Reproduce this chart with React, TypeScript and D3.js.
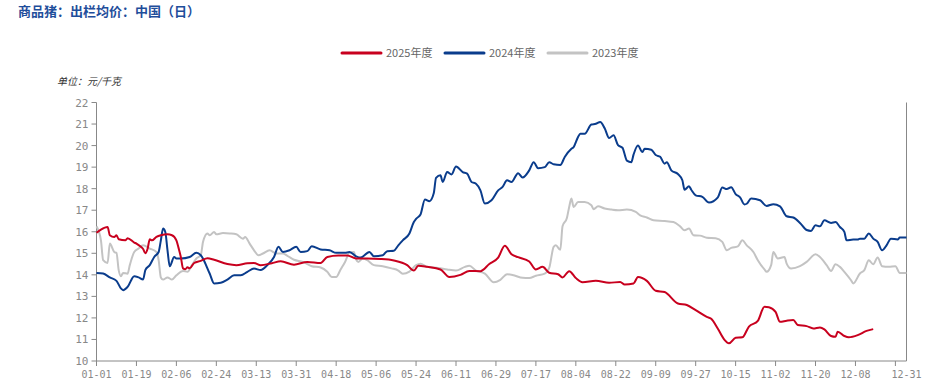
import React from "react"
import * as d3 from "d3"

// 商品猪：出栏均价，按日，横轴为闰年日序（0 = 01-01）
const seriesNames = ["2025年度", "2024年度", "2023年度"]
const seriesColors = ["#c8001e", "#0a3c8c", "#c3c3c3"]

const days2025 = [0, 2, 5, 6, 8, 9, 10, 13, 14, 17, 18, 20, 21, 22, 23, 24, 25, 27, 29, 32, 34, 36, 37, 38, 39, 40, 41, 42, 44, 47, 50, 53, 59, 63, 68, 71, 74, 79, 83, 89, 95, 101, 104, 109, 113, 117, 122, 128, 134, 140, 143, 145, 149, 155, 159, 164, 168, 173, 177, 181, 184, 187, 190, 195, 198, 201, 204, 208, 210, 213, 216, 219, 225, 231, 236, 238, 242, 244, 248, 252, 256, 262, 266, 270, 275, 277, 280, 283, 285, 288, 291, 294, 298, 301, 303, 306, 308, 311, 314, 316, 320, 323, 326, 328, 331, 333, 334, 337, 339, 343, 347, 350]
const values2025 = [15.95, 16.1, 16.22, 15.84, 15.76, 15.84, 15.65, 15.6, 15.7, 15.5, 15.45, 15.3, 15.2, 15.0, 15.2, 15.65, 15.6, 15.76, 15.84, 15.88, 15.84, 15.6, 15.24, 14.83, 14.3, 14.26, 14.35, 14.3, 14.55, 14.65, 14.77, 14.7, 14.5, 14.45, 14.54, 14.55, 14.45, 14.54, 14.63, 14.47, 14.6, 14.55, 14.83, 14.9, 14.9, 14.76, 14.76, 14.74, 14.67, 14.45, 14.2, 14.42, 14.37, 14.25, 13.9, 14.0, 14.18, 14.17, 14.5, 14.8, 15.35, 14.96, 14.82, 14.62, 14.25, 14.37, 14.1, 14.03, 13.88, 14.17, 13.85, 13.66, 13.72, 13.63, 13.67, 13.55, 13.6, 13.9, 13.72, 13.26, 13.2, 12.67, 12.6, 12.36, 12.05, 11.96, 11.5, 10.98, 10.82, 11.08, 11.1, 11.6, 11.86, 12.52, 12.5, 12.28, 11.82, 11.87, 11.9, 11.67, 11.62, 11.51, 11.56, 11.47, 11.16, 11.12, 11.36, 11.16, 11.1, 11.2, 11.4, 11.48]

const days2024 = [0, 3, 6, 9, 11, 12, 14, 17, 19, 21, 22, 24, 26, 28, 29, 30, 31, 32, 33, 35, 36, 38, 42, 45, 47, 51, 53, 56, 59, 62, 65, 68, 71, 74, 77, 80, 82, 84, 87, 90, 92, 95, 97, 101, 105, 108, 112, 114, 117, 119, 123, 125, 129, 131, 134, 136, 138, 141, 143, 144, 146, 148, 150, 152, 153, 155, 156, 158, 160, 162, 165, 167, 169, 171, 173, 175, 178, 181, 183, 185, 187, 190, 192, 195, 197, 199, 202, 204, 206, 209, 211, 214, 215, 217, 218, 220, 223, 225, 227, 229, 231, 233, 235, 237, 239, 241, 242, 244, 246, 247, 250, 252, 254, 256, 257, 259, 262, 264, 265, 267, 268, 270, 273, 276, 280, 282, 284, 286, 288, 290, 292, 293, 295, 299, 302, 305, 308, 311, 314, 317, 320, 322, 324, 326, 328, 331, 333, 335, 337, 338, 341, 343, 344, 346, 348, 350, 352, 354, 356, 358, 361, 362, 365]
const values2024 = [14.09, 14.06, 13.88, 13.72, 13.37, 13.29, 13.44, 13.94, 13.88, 13.78, 14.22, 14.45, 14.83, 15.06, 15.6, 16.15, 15.99, 15.14, 14.4, 14.83, 14.76, 14.76, 14.83, 15.02, 14.91, 14.06, 13.6, 13.63, 13.78, 13.98, 13.98, 14.14, 14.29, 14.22, 14.45, 14.83, 15.3, 15.06, 15.14, 15.3, 15.06, 15.1, 15.33, 15.18, 15.14, 15.02, 15.02, 15.06, 14.86, 14.8, 15.06, 14.86, 14.91, 15.1, 15.12, 15.37, 15.6, 15.92, 16.45, 16.6, 16.8, 17.5, 17.42, 17.8, 18.5, 18.62, 18.31, 18.77, 18.66, 19.03, 18.77, 18.7, 18.31, 18.23, 17.92, 17.31, 17.46, 17.92, 18.08, 18.39, 18.31, 18.72, 18.52, 18.85, 19.23, 18.95, 19.0, 19.23, 19.13, 19.1, 19.47, 19.85, 19.93, 20.4, 20.55, 20.55, 20.98, 21.01, 21.1, 20.8, 20.35, 20.48, 20.02, 19.9, 19.3, 19.23, 19.58, 20.0, 19.7, 19.85, 19.81, 19.56, 19.48, 19.16, 19.23, 18.85, 18.68, 18.39, 17.95, 18.11, 17.95, 17.69, 17.62, 17.36, 17.6, 18.05, 17.98, 18.07, 17.75, 17.6, 17.27, 17.3, 17.54, 17.46, 17.2, 17.28, 17.18, 16.72, 16.66, 16.41, 16.08, 16.04, 16.3, 16.25, 16.53, 16.41, 16.45, 16.22, 15.99, 15.6, 15.64, 15.64, 15.68, 15.68, 15.92, 15.68, 15.53, 15.14, 15.37, 15.68, 15.64, 15.73, 15.73]

const days2023 = [0, 2, 3, 5, 6, 8, 9, 10, 11, 12, 14, 15, 17, 19, 21, 24, 27, 28, 29, 30, 32, 34, 36, 39, 41, 43, 45, 47, 48, 50, 51, 53, 54, 57, 60, 63, 66, 67, 69, 71, 73, 75, 78, 81, 84, 86, 89, 93, 97, 101, 104, 106, 108, 110, 112, 114, 116, 117, 118, 120, 122, 125, 129, 133, 136, 138, 141, 144, 146, 149, 154, 158, 162, 166, 168, 171, 175, 179, 182, 185, 188, 192, 195, 198, 202, 204, 206, 207, 209, 210, 212, 213, 214, 215, 217, 220, 223, 224, 226, 229, 232, 235, 239, 243, 245, 248, 251, 256, 260, 263, 265, 267, 269, 272, 275, 279, 282, 284, 286, 289, 291, 293, 296, 298, 301, 302, 304, 305, 307, 310, 311, 313, 317, 320, 324, 326, 329, 331, 333, 335, 337, 340, 341, 344, 346, 348, 350, 352, 354, 357, 360, 362, 365]
const values2023 = [16.25, 15.6, 14.68, 14.55, 15.45, 15.06, 15.02, 14.22, 13.94, 14.09, 14.05, 14.45, 15.06, 15.22, 15.37, 15.22, 15.06, 14.68, 13.88, 13.78, 13.88, 13.78, 13.98, 14.18, 14.14, 14.45, 14.76, 14.91, 15.53, 15.92, 15.84, 15.99, 15.88, 15.94, 15.92, 15.88, 15.68, 15.76, 15.45, 15.14, 14.91, 14.99, 15.14, 14.99, 14.99, 14.88, 14.7, 14.6, 14.4, 14.34, 14.14, 13.9, 13.9, 14.25, 14.6, 15.02, 15.06, 14.71, 14.6, 14.76, 14.68, 14.45, 14.4, 14.3, 14.2, 14.05, 14.15, 14.45, 14.52, 14.37, 14.32, 14.25, 14.2, 14.37, 14.42, 14.2, 14.06, 13.66, 13.77, 14.03, 13.98, 13.86, 13.85, 13.96, 14.06, 14.32, 15.3, 15.37, 15.16, 16.25, 16.65, 17.15, 17.54, 17.15, 17.38, 17.38, 17.23, 17.05, 17.18, 17.08, 17.03, 17.0, 17.03, 16.92, 16.76, 16.66, 16.53, 16.5, 16.45, 16.25, 16.07, 16.15, 15.84, 15.82, 15.72, 15.7, 15.53, 15.14, 15.25, 15.32, 15.6, 15.37, 15.06, 14.68, 14.25, 14.14, 14.45, 15.06, 14.76, 14.83, 14.52, 14.29, 14.4, 14.6, 14.95, 14.83, 14.45, 14.18, 14.49, 14.37, 14.14, 13.75, 13.6, 14.06, 14.22, 14.68, 14.49, 14.8, 14.4, 14.37, 14.4, 14.09, 14.09]

const xTickLabels = ["01-01", "01-19", "02-06", "02-24", "03-13", "03-31", "04-18", "05-06", "05-24", "06-11", "06-29", "07-17", "08-04", "08-22", "09-09", "09-27", "10-15", "11-02", "11-20", "12-08"]
const lastLabel = "12-31"
const yTicks = [10, 11, 12, 13, 14, 15, 16, 17, 18, 19, 20, 21, 22]

const W = 949
const H = 391
const left = 96.5
const right = 906.5
const top = 102.5
const bottom = 361

const yearStart = new Date(2024, 0, 1)
const dayOf = (md: string) => {
    const [m, d] = md.split("-").map(Number)
    return d3.timeDay.count(yearStart, new Date(2024, m - 1, d))
}

export default function App() {
    const x = d3.scaleLinear().domain([0, 365]).range([left, right])
    const y = d3.scaleLinear().domain([10, 22]).range([bottom, top])

    const line = d3.line<[number, number]>()
        .x(d => x(d[0]))
        .y(d => y(d[1]))
        .curve(d3.curveMonotoneX)

    const series = [
        d3.zip(days2025, values2025) as [number, number][],
        d3.zip(days2024, values2024) as [number, number][],
        d3.zip(days2023, values2023) as [number, number][],
    ]

    const tickDays = d3.range(0, 366, 18)
    const labelFont = "'DejaVu Sans Mono', monospace"
    const cjk = "'Noto Sans CJK SC', sans-serif"

    const legendX = [342, 445, 548]

    return (
        <svg width={W} height={H} style={{ position: "absolute", left: 0, top: 0, background: "#fff" }}>
            <text x={18} y={16} fontFamily={cjk} fontSize={13} fontWeight="bold" fill="#1f4e9b">
                商品猪：出栏均价：中国（日）
            </text>

            {seriesNames.map((name, i) => (
                <g key={name} transform={`translate(${legendX[i]},53)`}>
                    <line x1={0} x2={39} y1={0} y2={0} stroke={seriesColors[i]} strokeWidth={3} strokeLinecap="round" />
                    <text x={44} y={4} fontFamily={cjk} fontSize={11} fill="#666">{name}</text>
                </g>
            ))}

            <text x={57} y={85} fontFamily={cjk} fontSize={10} fill="#333" fontStyle="italic">单位：元/千克</text>

            {/* y axis */}
            <line x1={left} x2={left} y1={top} y2={bottom} stroke="#888" />
            <line x1={right} x2={right} y1={top} y2={bottom} stroke="#888" />
            {yTicks.map(t => (
                <g key={t} transform={`translate(0,${y(t)})`}>
                    <line x1={left - 5} x2={left} stroke="#888" />
                    <text x={left - 8} y={4} textAnchor="end" fontFamily={labelFont} fontSize={11} fill="#888">{t}</text>
                </g>
            ))}

            {/* x axis */}
            <line x1={left} x2={right} y1={bottom} y2={bottom} stroke="#888" />
            {tickDays.map(d => (
                <line key={d} x1={x(d)} x2={x(d)} y1={bottom} y2={bottom + 5} stroke="#888" />
            ))}
            {xTickLabels.map(l => (
                <text key={l} x={x(dayOf(l))} y={bottom + 17} textAnchor="middle" fontFamily={labelFont} fontSize={10} fill="#888">{l}</text>
            ))}
            <text x={x(dayOf(lastLabel))} y={bottom + 17} textAnchor="middle" fontFamily={labelFont} fontSize={10} fill="#888">{lastLabel}</text>

            {/* lines: 2023 at back */}
            {[2, 1, 0].map(i => (
                <path key={i} d={line(series[i]) || ""} fill="none" stroke={seriesColors[i]} strokeWidth={2} strokeLinejoin="round" />
            ))}
        </svg>
    )
}
